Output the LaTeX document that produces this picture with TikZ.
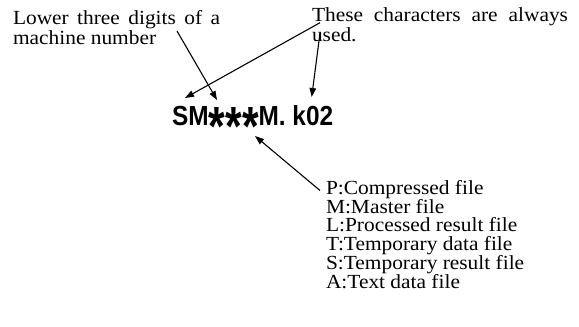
\documentclass[tikz,border=0pt]{standalone}
\usepackage{fontspec}
\setmainfont{Liberation Serif}[FakeStretch=1.07]
\newfontfamily\bigsans{Liberation Sans}
\usetikzlibrary{arrows.meta}
\tikzset{
  txt/.style={anchor=base west,inner sep=0pt,outer sep=0pt,font=\fontsize{20}{20}\selectfont},
  pointer/.style={line width=1.1pt,-{Triangle[length=9pt,width=6.5pt]}}
}
\newcommand{\bigast}{\raisebox{-20.5pt}{\scalebox{1.75}[2.0]{*}}}
\begin{document}
\begin{tikzpicture}[x=1pt,y=-1pt]
\useasboundingbox (0,0) rectangle (579,327);
% texts
\node[txt] (lowA) at (13,24.3) {\makebox[207pt][s]{Lower three digits of a}};
\node[txt] (lowB) at (13,44.3) {machine number};
\node[txt] (thsA) at (312,21) {\makebox[256pt][s]{These characters are always}};
\node[txt] (thsB) at (312,41.5) {used.};
\node[anchor=base west,inner sep=0pt] (name) at (172,125)
  {\resizebox{161pt}{20pt}{\bigsans\bfseries\fontsize{28}{28}\selectfont SM\bigast\bigast\bigast M. k02}};
\node[txt] (list) at (326,194.5)
  {\parbox[t]{230pt}{\fontsize{20}{18.7}\selectfont\lineskiplimit=-50pt\raggedright
   P:Compressed file\\M:Master file\\L:Processed result file\\T:Temporary data file\\S:Temporary result file\\A:Text data file}};
% arrow coordinates
\coordinate (s1) at (177,31);
\coordinate (e1) at (217,100);
\coordinate (s2) at (320,22.7);
\coordinate (e2) at (185,98);
\coordinate (s3) at (320,33);
\coordinate (e3) at (311.7,97);
\coordinate (s4) at (320,190.5);
\coordinate (e4) at (255,136);
\draw[pointer] (s1) -- (e1);
\draw[pointer] (s2) -- (e2);
\draw[pointer] (s3) -- (e3);
\draw[pointer] (s4) -- (e4);
\end{tikzpicture}
\end{document}
